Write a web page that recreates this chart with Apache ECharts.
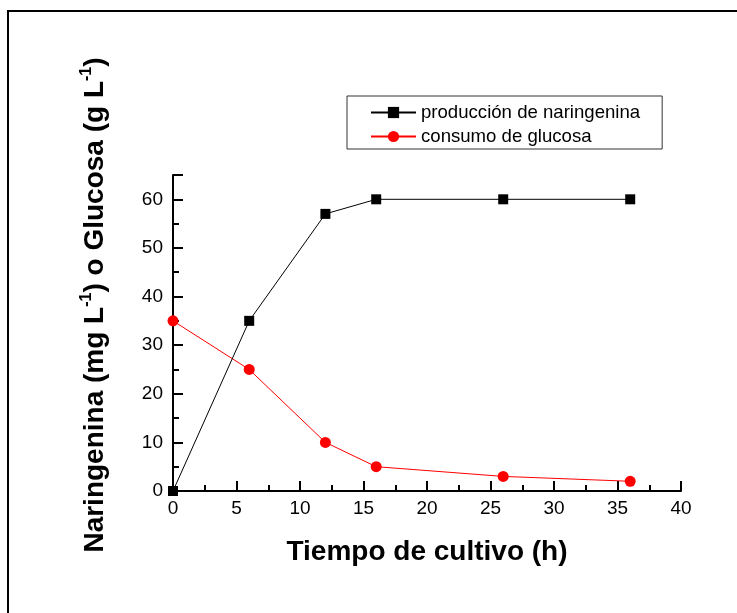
<!DOCTYPE html>
<html>
<head>
<meta charset="utf-8">
<script src="https://cdn.jsdelivr.net/npm/echarts@6/dist/echarts.min.js"></script>
<style>
  html, body { margin: 0; padding: 0; background: #fff; }
  #chart { width: 737px; height: 613px; }
</style>
</head>
<body>
<div id="chart"></div>
<script>
// horas de cultivo
const tiempo = [0, 6, 12, 16, 26, 36];
// naringenina (mg/L)
const naringenina = [0, 35, 57, 60, 60, 60];
// glucosa (g/L)
const glucosa = [35, 25, 10, 5, 3, 2];

const chart = echarts.init(document.getElementById("chart"));
const font = "Liberation Sans, Arial, sans-serif";

const option = {
  animation: false,
  backgroundColor: "#fff",
  graphic: [
    {
      // marco exterior
      type: "rect",
      shape: { x: 8, y: 11, width: 760, height: 640 },
      style: { fill: "none", stroke: "#000", lineWidth: 2 },
      silent: true,
    },
    {
      // titulo del eje y (con superindices)
      type: "text",
      x: 95,
      y: 305,
      rotation: Math.PI / 2,
      silent: true,
      style: {
        text: "{t|Naringenina (mg L}{s|-1}{t|) o Glucosa (g L}{s|-1}{t|)}",
        align: "center",
        verticalAlign: "middle",
        rich: {
          t: { fontFamily: font, fontSize: 28, fontWeight: "bold", fill: "#000", lineHeight: 34 },
          s: { fontFamily: font, fontSize: 16, fontWeight: "bold", fill: "#000", lineHeight: 34, padding: [0, 0, 16, 0] },
        },
      },
    },
  ],
  grid: { left: 173, right: 56, top: 175, bottom: 122 },
  legend: {
    orient: "vertical",
    left: 347,
    top: 96,
    padding: [7, 22, 3, 23],
    itemGap: 5,
    itemWidth: 45,
    itemHeight: 14,
    borderColor: "#333",
    borderWidth: 1,
    textStyle: { fontFamily: font, fontSize: 18.6, color: "#000" },
    data: ["producción de naringenina", "consumo de glucosa"],
  },
  xAxis: {
    type: "value",
    min: 0,
    max: 40,
    interval: 5,
    name: "Tiempo de cultivo (h)",
    nameLocation: "middle",
    nameGap: 47,
    nameTextStyle: { fontFamily: font, fontSize: 28, fontWeight: "bold", color: "#000" },
    axisLine: { show: true, onZero: false, lineStyle: { color: "#000", width: 2 } },
    axisTick: { show: true, inside: true, length: 10, lineStyle: { color: "#000", width: 2 } },
    minorTick: { show: true, splitNumber: 2, length: 6, lineStyle: { color: "#000", width: 2 } },
    axisLabel: { fontFamily: font, fontSize: 19, color: "#000", margin: 8 },
    splitLine: { show: false },
  },
  yAxis: {
    type: "value",
    min: 0,
    max: 65,
    interval: 10,
    axisLine: { show: true, onZero: false, lineStyle: { color: "#000", width: 2 } },
    axisTick: { show: true, inside: true, length: 10, lineStyle: { color: "#000", width: 2 } },
    minorTick: { show: true, splitNumber: 2, length: 6, lineStyle: { color: "#000", width: 2 } },
    axisLabel: { fontFamily: font, fontSize: 19, color: "#000", margin: 10, showMaxLabel: false },
    splitLine: { show: false },
  },
  series: [
    {
      name: "producción de naringenina",
      type: "line",
      data: tiempo.map((t, i) => [t, naringenina[i]]),
      symbol: "rect",
      symbolSize: 10,
      itemStyle: { color: "#000" },
      lineStyle: { color: "#000", width: 1 },
      z: 3,
    },
    {
      name: "consumo de glucosa",
      type: "line",
      data: tiempo.map((t, i) => [t, glucosa[i]]),
      symbol: "circle",
      symbolSize: 11,
      itemStyle: { color: "#ff0000" },
      lineStyle: { color: "#ff0000", width: 1 },
      z: 2,
    },
  ],
};
chart.setOption(option);
</script>
</body>
</html>
